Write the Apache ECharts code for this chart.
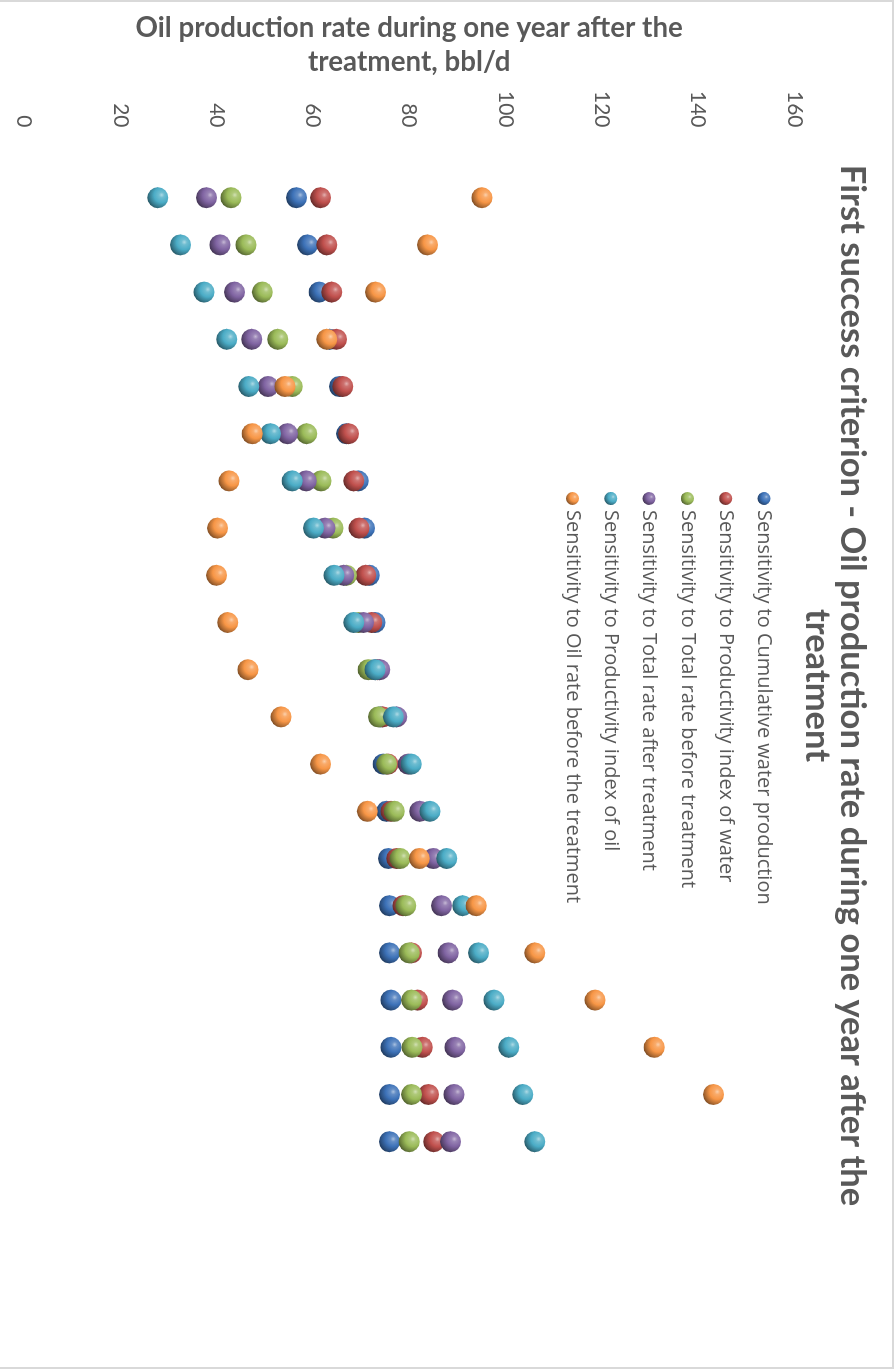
<!DOCTYPE html>
<html>
<head>
<meta charset="utf-8">
<script src="https://cdn.jsdelivr.net/npm/echarts@6/dist/echarts.min.js"></script>
<style>
  html, body { margin: 0; padding: 0; background: #fff; overflow: hidden; }
  #page { position: relative; width: 895px; height: 1371px; overflow: hidden; background: #fff; }
  /* The chart is laid out landscape and turned a quarter clockwise onto the portrait page */
  #chart {
    position: absolute; left: 0; top: 0;
    width: 1371px; height: 895px;
    transform-origin: 0 0;
    transform: translate(895px, 0) rotate(90deg);
  }
</style>
</head>
<body>
<div id="page"><div id="chart"></div></div>
<script>
// Case number (1..21) along the horizontal axis
const caseNo = [1, 2, 3, 4, 5, 6, 7, 8, 9, 10, 11, 12, 13, 14, 15, 16, 17, 18, 19, 20, 21];

// Oil production rate during one year after the treatment, bbl/d
const cumulativeWater = [56.6, 58.9, 61.3, 63.5, 65.5, 67.0, 69.4, 70.7, 71.7, 72.9, 73.0, 74.0, 74.6, 75.3, 75.7, 75.9, 75.9, 76.2, 76.2, 75.9, 75.9];
const piWater = [61.6, 62.9, 63.9, 64.9, 66.2, 67.4, 68.5, 69.6, 71.0, 72.2, 73.4, 74.5, 75.6, 76.2, 77.4, 78.7, 80.5, 81.7, 82.7, 84.0, 85.1];
const totalRateBefore = [43.0, 46.1, 49.5, 52.7, 55.7, 58.7, 61.7, 64.2, 67.0, 69.5, 71.5, 73.6, 75.3, 76.9, 78.1, 79.3, 80.0, 80.5, 80.6, 80.5, 80.0];
const totalRateAfter = [37.9, 40.7, 43.7, 47.3, 50.7, 54.7, 58.6, 62.5, 66.4, 70.5, 73.9, 77.4, 79.8, 82.2, 85.0, 86.7, 88.1, 89.0, 89.5, 89.3, 88.6];
const piOil = [27.8, 32.5, 37.4, 42.1, 46.7, 51.2, 55.7, 60.1, 64.4, 68.5, 72.9, 76.7, 80.4, 84.3, 87.8, 91.1, 94.4, 97.6, 100.7, 103.6, 106.1];
const oilRateBefore = [95.1, 83.8, 73.0, 62.9, 54.2, 47.4, 42.6, 40.2, 40.0, 42.3, 46.5, 53.4, 61.6, 71.3, 82.1, 93.9, 106.1, 118.6, 130.9, 143.2];

const seriesNames = [
  'Sensitivity to Cumulative water production',
  'Sensitivity to Productivity index of water',
  'Sensitivity to Total rate before treatment',
  'Sensitivity to Total rate after treatment',
  'Sensitivity to Productivity index of oil',
  'Sensitivity to Oil rate before the treatment'
];
const seriesValues = [cumulativeWater, piWater, totalRateBefore, totalRateAfter, piOil, oilRateBefore];
const baseColors = ['#3d72b8', '#c0504d', '#9bbb59', '#8064a2', '#4bacc6', '#f79646'];

const valueTicks = [0, 20, 40, 60, 80, 100, 120, 140, 160];

function mix(hex, target, t) {
  const c = parseInt(hex.slice(1), 16);
  const r = (c >> 16) & 255, g = (c >> 8) & 255, b = c & 255;
  const m = v => Math.round(v + (target - v) * t);
  return 'rgb(' + m(r) + ',' + m(g) + ',' + m(b) + ')';
}

// Shaded "ball" fill: light spot upper-left, darker rim
function ball(hex) {
  return {
    type: 'radial', x: 0.37, y: 0.32, r: 0.72,
    colorStops: [
      { offset: 0, color: mix(hex, 255, 0.55) },
      { offset: 0.18, color: mix(hex, 255, 0.2) },
      { offset: 0.5, color: hex },
      { offset: 0.82, color: mix(hex, 0, 0.3) },
      { offset: 1, color: mix(hex, 0, 0.5) }
    ]
  };
}

const series = seriesNames.map((name, k) => ({
  name: name,
  type: 'scatter',
  symbol: 'circle',
  symbolSize: 21,
  itemStyle: { color: ball(baseColors[k]), opacity: 1 },
  data: seriesValues[k].map((v, i) => [caseNo[i], v])
}));

const chart = echarts.init(document.getElementById('chart'), null, { renderer: 'canvas' });
chart.setOption({
  animation: false,
  backgroundColor: '#ffffff',
  title: {
    text: 'First success criterion - Oil production rate during one year after the\ntreatment',
    left: 'center',
    top: 25,
    padding: 0,
    textStyle: { fontFamily: 'Lato', fontWeight: 'bold', fontSize: 34.5, lineHeight: 35, color: '#595959' }
  },
  legend: {
    orient: 'vertical',
    left: 492,
    top: 121,
    padding: 0,
    icon: 'circle',
    itemWidth: 13,
    itemHeight: 13,
    itemGap: 18.3,
    textStyle: { fontFamily: 'Open Sans', fontSize: 20, lineHeight: 20, color: '#595959' },
    data: seriesNames
  },
  graphic: [{
    type: 'rect',
    silent: true,
    shape: { x: 1, y: 2, width: 1367, height: 1000 },
    style: { fill: 'none', stroke: '#d9d9d9', lineWidth: 2 }
  }],
  grid: { left: 150.5, right: 40.5, top: 100.6, bottom: 24, containLabel: false },
  xAxis: { type: 'value', min: 0, max: 25, show: false },
  yAxis: {
    type: 'value',
    min: valueTicks[0],
    max: valueTicks[valueTicks.length - 1],
    interval: valueTicks[1] - valueTicks[0],
    axisLine: { show: false },
    axisTick: { show: false },
    splitLine: { show: false },
    axisLabel: { fontFamily: 'Lato', fontSize: 21, color: '#595959', margin: 23 },
    name: 'Oil production rate during one year after the\ntreatment, bbl/d',
    nameLocation: 'middle',
    nameGap: 71,
    nameTextStyle: { fontFamily: 'Lato', fontWeight: 'bold', fontSize: 27.8, lineHeight: 34, color: '#595959' }
  },
  series: series
});
</script>
</body>
</html>
